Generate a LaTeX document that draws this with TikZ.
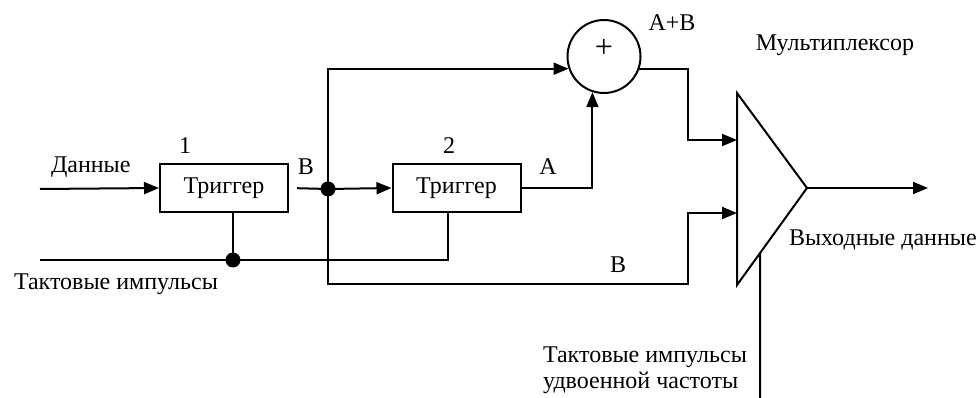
\documentclass[tikz,border=0pt]{standalone}
\usepackage{fontspec}
\setmainfont{Liberation Serif}
\usetikzlibrary{arrows.meta,calc}
\begin{document}
\begin{tikzpicture}[x=1pt,y=-1pt,
  line width=2pt,
  every node/.style={font=\fontsize{24}{26}\selectfont, inner sep=0pt},
  trig/.style={draw, rectangle, minimum width=128pt, minimum height=48pt},
  summ/.style={draw, circle, minimum size=73pt},
  arr/.style={-{Triangle[length=15pt,width=12pt]}},
  junc/.style={circle, fill, minimum size=15pt},
  lbl/.style={anchor=center}]
\useasboundingbox (0,0) rectangle (978,398);
% blocks
\node[trig] (t1) at (224,188) {Триггер};
\node[trig] (t2) at (456.5,188) {Триггер};
\node[summ] (sum) at (604,56.5) {};
\node[font=\fontsize{32}{34}\selectfont] (plus) at (604,48) {+};
% multiplexer
\coordinate (mtop) at (737,93);
\coordinate (mbot) at (737,285);
\coordinate (mapex) at (807,188);
\draw (mtop) -- (mapex) -- (mbot) -- cycle;
\coordinate (in1) at (737,140);
\coordinate (in2) at (737,213);
\coordinate (mclk) at ($(mbot)!0.3286!(mapex)$);
% junctions
\node[junc] (dotB) at (328,189) {};
\node[junc] (dotC) at (233,260) {};
% free ends
\coordinate (din) at (40,189);
\coordinate (clk) at (40,260);
\coordinate (c2) at (448,260);
\coordinate (j1) at (688,140);
\coordinate (jb) at (688,284);
\coordinate (out) at (928,188);
\coordinate (mclkend) at (760,398);
% connectors
\draw[arr] (din) -- (t1.west);
\draw[shorten <=8pt] (t1.east) -- (dotB.center);
\draw[arr] (dotB.center) -- (t2.west);
\draw[arr] (dotB.center) |- (sum.199);
\draw[arr] (t2.east) -| (sum.252);
\draw[arr] (sum.341) -| (j1) -- (in1);
\draw[arr] (dotB.center) |- (jb) |- (in2);
\draw (clk) -- (c2) -- (c2 |- t2.south);
\draw (t1.south -| dotC) -- (dotC.center);
\draw[arr] (mapex) -- (out);
\draw (mclk) -- (mclkend);
% labels
\node[lbl] at (185,146) {1};
\node[lbl] at (449,146) {2};
\node[anchor=west] at (50,167) {Данные};
\node[lbl] at (306,167) {B};
\node[lbl] at (548,167) {A};
\node[lbl] at (672,23) {A+B};
\node[lbl] at (618,265) {B};
\node[lbl] at (835,45) {Мультиплексор};
\node[anchor=west] at (788,240) {Выходные данные};
\node[anchor=west] at (13,284) {Тактовые импульсы};
\node[anchor=west, align=left] at (542,370) {Тактовые импульсы\\удвоенной частоты};
\end{tikzpicture}
\end{document}
